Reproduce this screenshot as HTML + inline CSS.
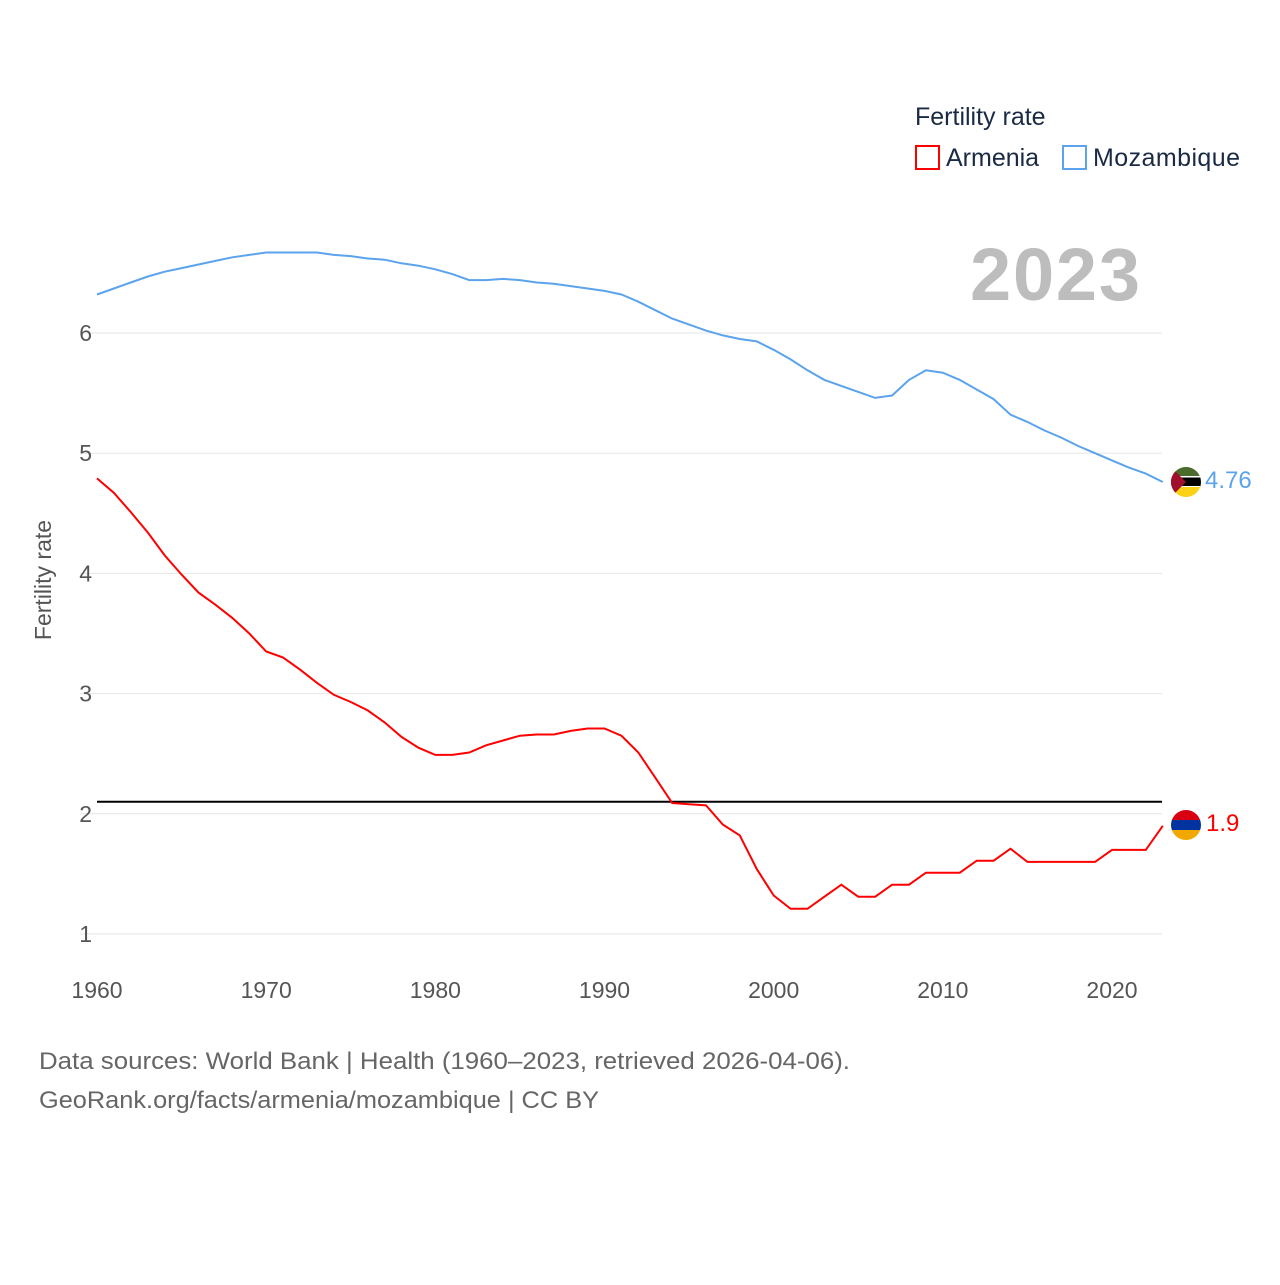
<!DOCTYPE html>
<html><head><meta charset="utf-8"><style>
body{margin:0;background:#fff;font-family:"Liberation Sans",sans-serif}
</style></head><body>
<svg id="chart" width="1280" height="1280" xmlns="http://www.w3.org/2000/svg" font-family="Liberation Sans, sans-serif">
<defs>
<clipPath id="cm"><circle cx="1186" cy="482" r="15"/></clipPath>
<clipPath id="ca"><circle cx="1186" cy="825" r="15"/></clipPath>
</defs>
<g id="grid"></g>
<g id="lines"></g>
<text x="915" y="125" font-size="25" fill="#1a2a44">Fertility rate</text>
<g><rect x="916" y="146" width="23" height="23" fill="none" stroke="#ff0000" stroke-width="2"/><text x="946" y="166" font-size="25" fill="#1a2a44">Armenia</text></g>
<g><rect x="1063" y="146" width="23" height="23" fill="none" stroke="#5ba3ec" stroke-width="2"/><text x="1093" y="166" font-size="25" fill="#1a2a44" textLength="147">Mozambique</text></g>
<text x="1140" y="300" font-size="74" font-weight="bold" fill="#bdbdbd" text-anchor="end" textLength="170">2023</text>
<text transform="translate(51,580) rotate(-90)" font-size="23" fill="#555" text-anchor="middle">Fertility rate</text>
<g clip-path="url(#cm)">
<rect x="1170" y="466" width="32" height="11" fill="#4a6b2b"/><rect x="1170" y="477" width="32" height="10" fill="#000"/><rect x="1170" y="476" width="32" height="1.5" fill="#fff"/><rect x="1170" y="486" width="32" height="1.5" fill="#fff"/><rect x="1170" y="487" width="32" height="12" fill="#fcd116"/><polygon points="1170,466 1186,482 1170,498" fill="#a0102a"/></g>
<g clip-path="url(#ca)">
<rect x="1170" y="809" width="32" height="11" fill="#d90012"/><rect x="1170" y="820" width="32" height="10" fill="#0033a0"/><rect x="1170" y="830" width="32" height="11" fill="#f2a800"/></g>
<text x="1205" y="488" font-size="24" fill="#5ba3ec">4.76</text>
<text x="1206" y="831" font-size="24" fill="#ff0000">1.9</text>
<text x="39" y="1069" font-size="24" fill="#666" textLength="811" lengthAdjust="spacingAndGlyphs">Data sources: World Bank | Health (1960–2023, retrieved 2026-04-06).</text>
<text x="39" y="1108" font-size="24" fill="#666" textLength="560" lengthAdjust="spacingAndGlyphs">GeoRank.org/facts/armenia/mozambique | CC BY</text>
</svg>
<script>
const years = Array.from({length:64},(_,i)=>1960+i);
const armenia = [4.79,4.67,4.51,4.34,4.15,3.99,3.84,3.74,3.63,3.50,3.35,3.30,3.20,3.09,2.99,2.93,2.86,2.76,2.64,2.55,2.49,2.49,2.51,2.57,2.61,2.65,2.66,2.66,2.69,2.71,2.71,2.65,2.51,2.30,2.09,2.08,2.07,1.91,1.82,1.54,1.32,1.21,1.21,1.31,1.41,1.31,1.31,1.41,1.41,1.51,1.51,1.51,1.61,1.61,1.71,1.6,1.6,1.6,1.6,1.6,1.7,1.7,1.7,1.9];
const mozambique = [6.32,6.37,6.42,6.47,6.51,6.54,6.57,6.60,6.63,6.65,6.67,6.67,6.67,6.67,6.65,6.64,6.62,6.61,6.58,6.56,6.53,6.49,6.44,6.44,6.45,6.44,6.42,6.41,6.39,6.37,6.35,6.32,6.26,6.19,6.12,6.07,6.02,5.98,5.95,5.93,5.86,5.78,5.69,5.61,5.56,5.51,5.46,5.48,5.61,5.69,5.67,5.61,5.53,5.45,5.32,5.26,5.19,5.13,5.06,5.00,4.94,4.88,4.83,4.76];
const yTicks = [1,2,3,4,5,6];
const xTicks = [1960,1970,1980,1990,2000,2010,2020];
const replacement = [2.1];
const NS="http://www.w3.org/2000/svg";
const xs = y => 97 + (y-1960)*(1112-97)/60;
const ys = v => 934 - (v-1)*120.2;
const grid=document.getElementById('grid'), lines=document.getElementById('lines');
function mk(tag,attrs,parent){const e=document.createElementNS(NS,tag);for(const k in attrs)e.setAttribute(k,attrs[k]);parent.appendChild(e);return e;}
yTicks.forEach(t=>{
 const l=mk('line',{x1:80,x2:1162,y1:ys(t),y2:ys(t),stroke:'#e6e6e6','stroke-width':1},grid);
 
 
 const tx=mk('text',{x:92,y:ys(t)+8,'font-size':23,fill:'#555','text-anchor':'end'},grid);
 tx.textContent=t;
 
 
});
xTicks.forEach(t=>{
 const tx=mk('text',{x:xs(t),y:998,'font-size':23,fill:'#555','text-anchor':'middle'},grid);
 tx.textContent=t;
 
 
});
replacement.forEach(v=>{
 const l=mk('line',{x1:97,x2:1162,y1:ys(v),y2:ys(v),stroke:'#000','stroke-width':2},lines);
 
 
});
function path(vals,color,name){
 const d=vals.map((v,i)=>(i?'L':'M')+xs(years[i]).toFixed(1)+','+ys(v).toFixed(1)).join('');
 const p=mk('path',{d:d,fill:'none',stroke:color,'stroke-width':2},lines);
 
 
}
path(mozambique,'#5ba3ec','mozambique-line');
path(armenia,'#ff0000','armenia-line');
</script>
</body></html>
